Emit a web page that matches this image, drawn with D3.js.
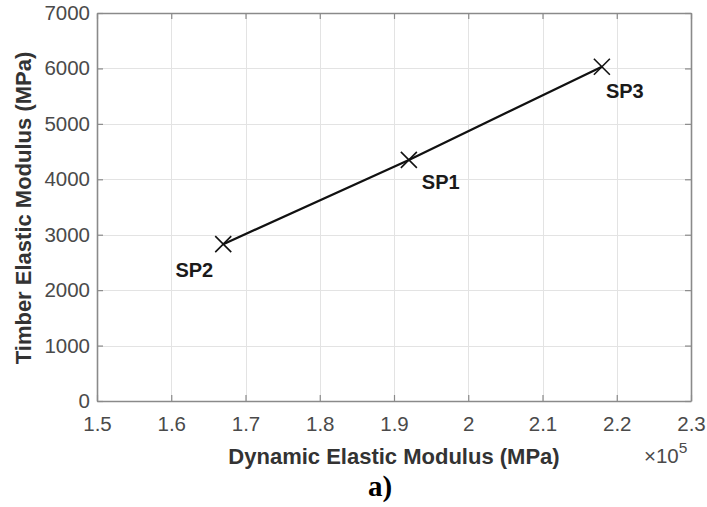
<!DOCTYPE html>
<html>
<head>
<meta charset="utf-8">
<script src="https://cdn.jsdelivr.net/npm/d3@7"></script>
<style>
  html, body { margin: 0; padding: 0; background: #fff; }
  svg { display: block; }
</style>
</head>
<body>
<svg id="chart" width="707" height="507"></svg>
<script>
// Specimens: dynamic modulus (x, in units of 1e5 MPa) vs. timber modulus (MPa)
const specimens = ["SP2", "SP1", "SP3"];
const dynamicModulus = [1.67, 1.92, 2.18];
const timberModulus = [2830, 4350, 6030];

const xTicks = [1.5, 1.6, 1.7, 1.8, 1.9, 2.0, 2.1, 2.2, 2.3];
const yTicks = [0, 1000, 2000, 3000, 4000, 5000, 6000, 7000];
const xTickLabels = ["1.5", "1.6", "1.7", "1.8", "1.9", "2", "2.1", "2.2", "2.3"];
const yTickLabels = ["0", "1000", "2000", "3000", "4000", "5000", "6000", "7000"];

// label placement relative to each marker
const labelOffset = {
  SP2: { dx: -10, dy: 33, anchor: "end" },
  SP1: { dx: 13, dy: 29, anchor: "start" },
  SP3: { dx: 4, dy: 31, anchor: "start" }
};

const svg = d3.select("#chart");
const margin = { left: 97, top: 13, right: 16, bottom: 106 };
const W = 707, H = 507;
const x0 = margin.left, x1 = W - margin.right;
const y0 = H - margin.bottom, y1 = margin.top;

const x = d3.scaleLinear().domain([1.5, 2.3]).range([x0, x1]);
const y = d3.scaleLinear().domain([0, 7000]).range([y0, y1]);

const font = "'Liberation Sans', Arial, Helvetica, sans-serif";

// grid
const grid = svg.append("g").attr("stroke", "#e3e3e3").attr("stroke-width", 1);
grid.selectAll("line.gx").data(xTicks.slice(1, -1)).join("line")
  .attr("x1", d => Math.round(x(d)) + 0.5).attr("x2", d => Math.round(x(d)) + 0.5)
  .attr("y1", y0).attr("y2", y1);
grid.selectAll("line.gy").data(yTicks.slice(1, -1)).join("line")
  .attr("y1", d => Math.round(y(d)) + 0.5).attr("y2", d => Math.round(y(d)) + 0.5)
  .attr("x1", x0).attr("x2", x1);

// axes with inward ticks, mirrored on top/right
const axisColor = "#8a8a8a";
const xAxis = d3.axisBottom(x).tickValues(xTicks).tickSizeInner(-6).tickSizeOuter(0)
  .tickFormat((d, i) => xTickLabels[i]).tickPadding(15);
const yAxis = d3.axisLeft(y).tickValues(yTicks).tickSizeInner(-6).tickSizeOuter(0)
  .tickFormat((d, i) => yTickLabels[i]).tickPadding(7);

const gx = svg.append("g").attr("transform", `translate(0,${y0})`).call(xAxis);
const gy = svg.append("g").attr("transform", `translate(${x0},0)`).call(yAxis);
const gxTop = svg.append("g").attr("transform", `translate(0,${y1})`)
  .call(d3.axisTop(x).tickValues(xTicks).tickSizeInner(-6).tickSizeOuter(0).tickFormat(""));
const gyRight = svg.append("g").attr("transform", `translate(${x1},0)`)
  .call(d3.axisRight(y).tickValues(yTicks).tickSizeInner(-6).tickSizeOuter(0).tickFormat(""));

[gx, gy, gxTop, gyRight].forEach(g => {
  g.select(".domain").attr("stroke", axisColor).attr("stroke-width", 1.6);
  g.selectAll(".tick line").attr("stroke", axisColor).attr("stroke-width", 1.2);
  g.selectAll(".tick text").attr("fill", "#4a4a4a")
    .style("font-family", font).style("font-size", "20.5px");
});

// axis titles
svg.append("text")
  .attr("x", (x0 + x1) / 2).attr("y", 464)
  .attr("text-anchor", "middle")
  .attr("fill", "#333").style("font-family", font).style("font-size", "22px").style("font-weight", "bold")
  .text("Dynamic Elastic Modulus (MPa)");

svg.append("text")
  .attr("transform", `translate(31,${(48 + 368) / 2}) rotate(-90)`)
  .attr("text-anchor", "middle")
  .attr("fill", "#333").style("font-family", font).style("font-size", "22px").style("font-weight", "bold")
  .text("Timber Elastic Modulus (MPa)");

// exponent marker
const expo = svg.append("text").attr("x", 644).attr("y", 463)
  .attr("fill", "#4a4a4a").style("font-family", font).style("font-size", "20.5px");
expo.append("tspan").text("\u00d710");
expo.append("tspan").attr("dy", -10).style("font-size", "15.5px").text("5");

// panel tag
svg.append("text").attr("x", 380).attr("y", 496).attr("text-anchor", "middle")
  .attr("fill", "#000").style("font-family", "'Liberation Serif', 'Times New Roman', serif")
  .style("font-size", "29px").style("font-weight", "bold").text("a)");

// data line
const pts = specimens.map((s, i) => ({ name: s, x: dynamicModulus[i], y: timberModulus[i] }));
const ordered = pts.slice().sort((a, b) => a.x - b.x);
svg.append("path")
  .attr("d", d3.line().x(d => x(d.x)).y(d => y(d.y))(ordered))
  .attr("fill", "none").attr("stroke", "#111").attr("stroke-width", 2.2);

// cross markers
const mk = 8;
const markers = svg.append("g").attr("stroke", "#111").attr("stroke-width", 1.6);
pts.forEach(p => {
  const cx = x(p.x), cy = y(p.y);
  markers.append("line").attr("x1", cx - mk).attr("y1", cy - mk).attr("x2", cx + mk).attr("y2", cy + mk);
  markers.append("line").attr("x1", cx - mk).attr("y1", cy + mk).attr("x2", cx + mk).attr("y2", cy - mk);
});

// point labels
svg.append("g").selectAll("text").data(pts).join("text")
  .attr("x", d => x(d.x) + labelOffset[d.name].dx)
  .attr("y", d => y(d.y) + labelOffset[d.name].dy)
  .attr("text-anchor", d => labelOffset[d.name].anchor)
  .attr("fill", "#1a1a1a").style("font-family", font).style("font-size", "20px").style("font-weight", "bold")
  .text(d => d.name);
</script>
</body>
</html>
